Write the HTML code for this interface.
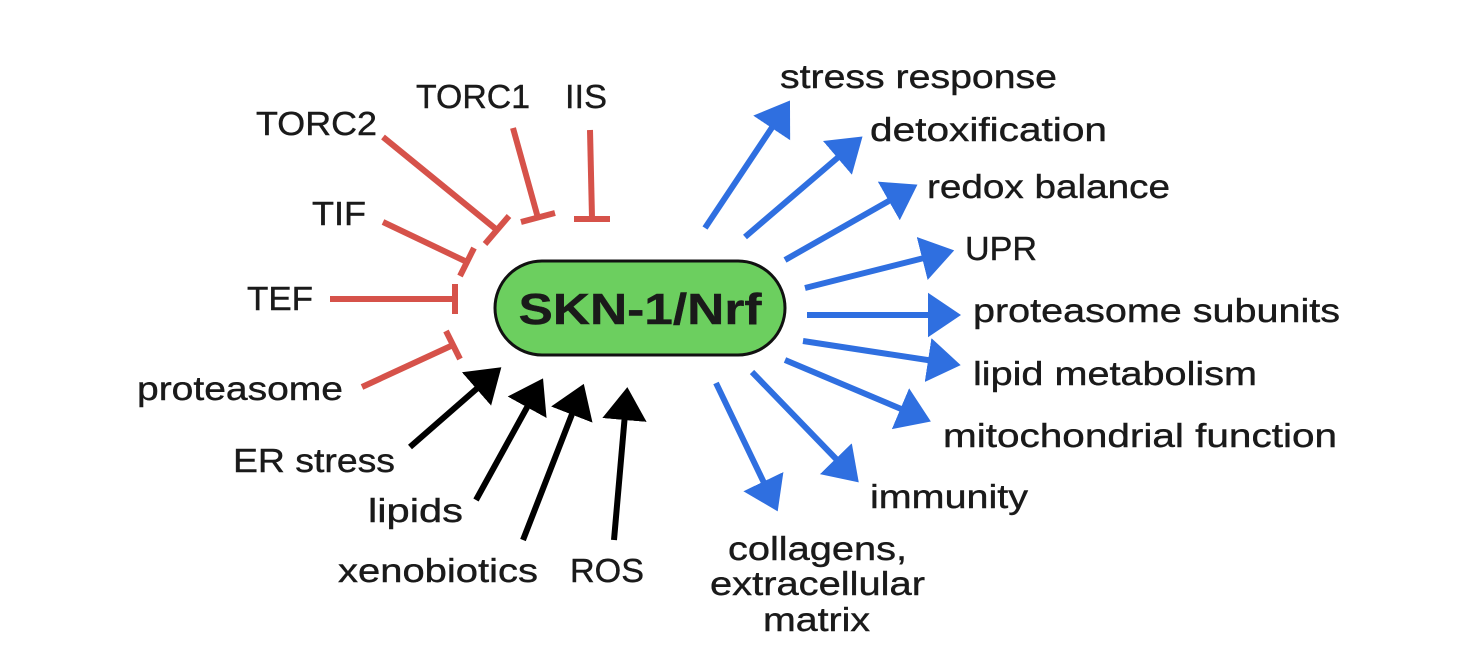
<!DOCTYPE html>
<html><head><meta charset="utf-8"><style>
html,body{margin:0;padding:0;background:#fff;}
svg{display:block;}
text{font-family:"Liberation Sans",sans-serif;font-size:33px;fill:#1a1a1a;stroke:#1a1a1a;stroke-width:0.4px;}
</style></head><body>
<svg width="1462" height="670" viewBox="0 0 1462 670" xmlns="http://www.w3.org/2000/svg">
<defs>
<marker id="bl" markerWidth="8" markerHeight="8" refX="1" refY="4" orient="auto" markerUnits="strokeWidth">
<path d="M0,0.3 L5.5,4 L0,7.7 z" fill="#2f6fe0"/></marker>
<marker id="bk" markerWidth="8" markerHeight="8" refX="1" refY="4" orient="auto" markerUnits="strokeWidth">
<path d="M0,0.3 L5.5,4 L0,7.7 z" fill="#000"/></marker>
</defs>
<rect x="495" y="261" width="290" height="94" rx="47" fill="#6ccf5f" stroke="#111" stroke-width="3"/>
<text x="640" y="324" text-anchor="middle" font-weight="bold" style="font-size:44px" textLength="243" lengthAdjust="spacingAndGlyphs">SKN-1/Nrf</text>
<g stroke="#d6524a" stroke-width="6" fill="none">
<line x1="383" y1="137" x2="497" y2="230"/><line x1="485" y1="244" x2="509" y2="216"/>
<line x1="513" y1="128" x2="538" y2="218"/><line x1="521" y1="222" x2="555" y2="213"/>
<line x1="590" y1="130" x2="592" y2="218"/><line x1="574" y1="219" x2="610" y2="219"/>
<line x1="383" y1="222" x2="467" y2="262"/><line x1="460" y1="276" x2="474" y2="248"/>
<line x1="330" y1="299" x2="455" y2="299"/><line x1="455" y1="284" x2="455" y2="314"/>
<line x1="362" y1="387" x2="453" y2="345"/><line x1="446" y1="331" x2="460" y2="359"/>
</g>
<g stroke="#000" stroke-width="6" fill="none">
<line x1="410" y1="447" x2="481" y2="385" marker-end="url(#bk)"/>
<line x1="476" y1="500" x2="530" y2="402" marker-end="url(#bk)"/>
<line x1="523" y1="540" x2="574" y2="409" marker-end="url(#bk)"/>
<line x1="614" y1="540" x2="625" y2="414" marker-end="url(#bk)"/>
</g>
<g stroke="#2f6fe0" stroke-width="6" fill="none">
<line x1="705" y1="228" x2="775" y2="123" marker-end="url(#bl)"/>
<line x1="745" y1="237" x2="842" y2="154" marker-end="url(#bl)"/>
<line x1="785" y1="260" x2="894" y2="198" marker-end="url(#bl)"/>
<line x1="805" y1="288" x2="928" y2="257" marker-end="url(#bl)"/>
<line x1="807" y1="315" x2="934" y2="315" marker-end="url(#bl)"/>
<line x1="803" y1="341" x2="934" y2="361" marker-end="url(#bl)"/>
<line x1="785" y1="360" x2="906" y2="411" marker-end="url(#bl)"/>
<line x1="752" y1="372" x2="840" y2="463" marker-end="url(#bl)"/>
<line x1="716" y1="383" x2="766" y2="487" marker-end="url(#bl)"/>
</g>
<text x="780" y="88" textLength="277" lengthAdjust="spacingAndGlyphs">stress response</text>
<text x="870" y="141" textLength="237" lengthAdjust="spacingAndGlyphs">detoxification</text>
<text x="927" y="198" textLength="243" lengthAdjust="spacingAndGlyphs">redox balance</text>
<text x="965" y="260" textLength="72" lengthAdjust="spacingAndGlyphs">UPR</text>
<text x="973" y="322" textLength="367" lengthAdjust="spacingAndGlyphs">proteasome subunits</text>
<text x="973" y="385" textLength="284" lengthAdjust="spacingAndGlyphs">lipid metabolism</text>
<text x="943" y="447" textLength="394" lengthAdjust="spacingAndGlyphs">mitochondrial function</text>
<text x="870" y="508" textLength="158" lengthAdjust="spacingAndGlyphs">immunity</text>
<text x="728" y="560" textLength="179" lengthAdjust="spacingAndGlyphs">collagens,</text>
<text x="710" y="595" textLength="215" lengthAdjust="spacingAndGlyphs">extracellular</text>
<text x="763" y="631" textLength="107" lengthAdjust="spacingAndGlyphs">matrix</text>
<text x="256" y="135" textLength="121" lengthAdjust="spacingAndGlyphs">TORC2</text>
<text x="416" y="108" textLength="114" lengthAdjust="spacingAndGlyphs">TORC1</text>
<text x="565" y="108" textLength="42" lengthAdjust="spacingAndGlyphs">IIS</text>
<text x="312" y="225" textLength="54" lengthAdjust="spacingAndGlyphs">TIF</text>
<text x="247" y="310" textLength="66" lengthAdjust="spacingAndGlyphs">TEF</text>
<text x="137" y="400" textLength="206" lengthAdjust="spacingAndGlyphs">proteasome</text>
<text x="233" y="472" textLength="162" lengthAdjust="spacingAndGlyphs">ER stress</text>
<text x="368" y="522" textLength="95" lengthAdjust="spacingAndGlyphs">lipids</text>
<text x="338" y="582" textLength="200" lengthAdjust="spacingAndGlyphs">xenobiotics</text>
<text x="570" y="582" textLength="74" lengthAdjust="spacingAndGlyphs">ROS</text>
</svg>
</body></html>
